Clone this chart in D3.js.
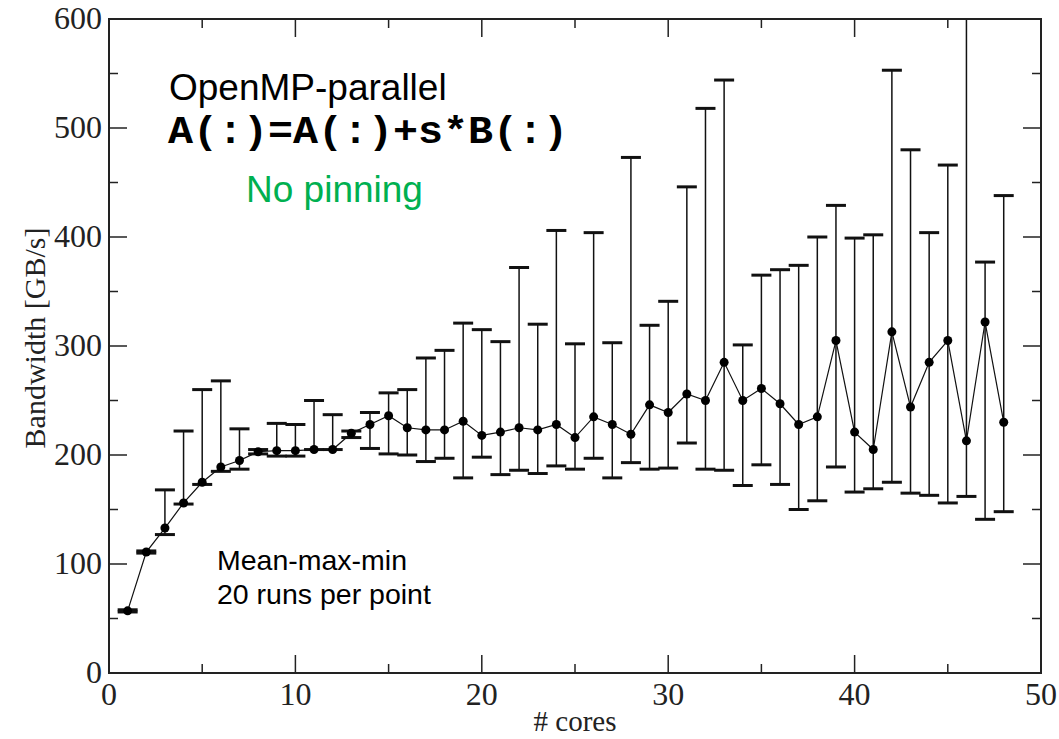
<!DOCTYPE html>
<html>
<head>
<meta charset="utf-8">
<script src="https://cdn.jsdelivr.net/npm/d3@7"></script>
<style>
  body { margin: 0; background: #fff; }
</style>
</head>
<body>
<svg width="1059" height="739"></svg>
<script>
// cores 1..48, mean / max / min bandwidth in GB/s (20 runs per point)
const cores = d3.range(1, 49);
const meanBw = [57, 111, 133, 156, 175, 189, 195, 203, 204, 204, 205, 205, 220, 228, 236, 225,
                223, 223, 231, 218, 221, 225, 223, 228, 216, 235, 228, 219, 246, 239, 256, 250,
                285, 250, 261, 247, 228, 235, 305, 221, 205, 313, 244, 285, 305, 213, 322, 230];
const maxBw = [58, 112, 168, 222, 260, 268, 224, 205, 229, 228, 250, 237, 222, 239, 257, 260,
               289, 296, 321, 315, 304, 372, 320, 406, 302, 404, 303, 473, 319, 341, 446, 518,
               544, 301, 365, 370, 374, 400, 429, 399, 402, 553, 480, 404, 466, 650, 377, 438];
const minBw = [56, 110, 127, 155, 173, 185, 187, 201, 199, 199, 205, 205, 216, 206, 201, 200,
               194, 197, 179, 198, 182, 186, 183, 190, 187, 197, 179, 193, 187, 188, 211, 187,
               186, 172, 191, 173, 150, 158, 189, 166, 169, 175, 165, 163, 156, 162, 141, 148];
const xTicks = [0, 10, 20, 30, 40, 50];
const yTicks = [0, 100, 200, 300, 400, 500, 600];

const svg = d3.select("svg");
const mLeft = 109, mRight = 1041, mTop = 19, mBottom = 673;

const x = d3.scaleLinear().domain([0, 50]).range([mLeft, mRight]);
const y = d3.scaleLinear().domain([0, 600]).range([mBottom, mTop]);

const data = cores.map((c, i) => ({c: c, mean: meanBw[i], max: maxBw[i], min: minBw[i]}));

svg.append("clipPath").attr("id", "clip")
    .append("rect").attr("x", mLeft).attr("y", mTop).attr("width", mRight - mLeft).attr("height", mBottom - mTop);

const plot = svg.append("g").attr("clip-path", "url(#clip)");

// error bars
plot.selectAll(".err").data(data).enter().append("line")
    .attr("x1", d => x(d.c)).attr("x2", d => x(d.c))
    .attr("y1", d => y(d.min)).attr("y2", d => y(d.max))
    .attr("stroke", "#111").attr("stroke-width", 1.5);

const capW = 10;
["max", "min"].forEach(k => {
    plot.selectAll(".cap-" + k).data(data).enter().append("line")
        .attr("x1", d => x(d.c) - capW).attr("x2", d => x(d.c) + capW)
        .attr("y1", d => y(d[k])).attr("y2", d => y(d[k]))
        .attr("stroke", "#111").attr("stroke-width", 3);
});

// mean line
const line = d3.line().x(d => x(d.c)).y(d => y(d.mean));
plot.append("path").attr("d", line(data))
    .attr("fill", "none").attr("stroke", "#111").attr("stroke-width", 1.2);

plot.selectAll(".pt").data(data).enter().append("circle")
    .attr("cx", d => x(d.c)).attr("cy", d => y(d.mean))
    .attr("r", 4.5)
    .attr("fill", "#000");

// frame
svg.append("rect").attr("x", mLeft).attr("y", mTop)
    .attr("width", mRight - mLeft).attr("height", mBottom - mTop)
    .attr("fill", "none").attr("stroke", "#222").attr("stroke-width", 2);

// ticks (inward, on all sides)
const ticks = svg.append("g").attr("stroke", "#222").attr("stroke-width", 1.5);
d3.range(0, 601, 50).forEach(v => {
    const len = v % 100 === 0 ? 18 : 9;
    if (v === 0 || v === 600) return;
    ticks.append("line").attr("x1", mLeft).attr("x2", mLeft + len).attr("y1", y(v)).attr("y2", y(v));
    ticks.append("line").attr("x1", mRight).attr("x2", mRight - len).attr("y1", y(v)).attr("y2", y(v));
});
d3.range(0, 51, 5).forEach(v => {
    const len = v % 10 === 0 ? 18 : 9;
    if (v === 0 || v === 50) return;
    ticks.append("line").attr("x1", x(v)).attr("x2", x(v)).attr("y1", mBottom).attr("y2", mBottom - len);
    ticks.append("line").attr("x1", x(v)).attr("x2", x(v)).attr("y1", mTop).attr("y2", mTop + len);
});

// tick labels
const serif = "'Liberation Serif', 'Times New Roman', serif";
svg.selectAll(".yl").data(yTicks).enter().append("text")
    .attr("x", mLeft - 7).attr("y", d => y(d) + 10)
    .attr("text-anchor", "end").attr("font-family", serif).attr("font-size", 32)
    .attr("fill", "#222")
    .text(d => d);
svg.selectAll(".xl").data(xTicks).enter().append("text")
    .attr("x", d => x(d)).attr("y", mBottom + 32)
    .attr("text-anchor", "middle").attr("font-family", serif).attr("font-size", 32)
    .attr("fill", "#222")
    .text(d => d);

svg.append("text").attr("x", x(25)).attr("y", 731)
    .attr("text-anchor", "middle").attr("font-family", serif).attr("font-size", 29)
    .attr("fill", "#222")
    .text("# cores");
svg.append("text").attr("transform", `translate(45,338) rotate(-90)`)
    .attr("text-anchor", "middle").attr("font-family", serif).attr("font-size", 30)
    .attr("fill", "#222")
    .text("Bandwidth [GB/s]");

// annotations
const sans = "Arial, 'Liberation Sans', sans-serif";
svg.append("text").attr("x", 169).attr("y", 100)
    .attr("font-family", sans).attr("font-size", 37).text("OpenMP-parallel");
svg.append("text").attr("x", 168).attr("y", 143)
    .attr("font-family", "'Courier New', 'Liberation Mono', monospace").attr("font-weight", "bold")
    .attr("font-size", 39).attr("textLength", 400).attr("lengthAdjust", "spacingAndGlyphs")
    .text("A(:)=A(:)+s*B(:)");
svg.append("text").attr("x", 246).attr("y", 202)
    .attr("font-family", sans).attr("font-size", 37).attr("fill", "#00b050").text("No pinning");
svg.append("text").attr("x", 217).attr("y", 570)
    .attr("font-family", sans).attr("font-size", 28.5).text("Mean-max-min");
svg.append("text").attr("x", 217).attr("y", 604)
    .attr("font-family", sans).attr("font-size", 28.5).text("20 runs per point");
</script>
</body>
</html>
